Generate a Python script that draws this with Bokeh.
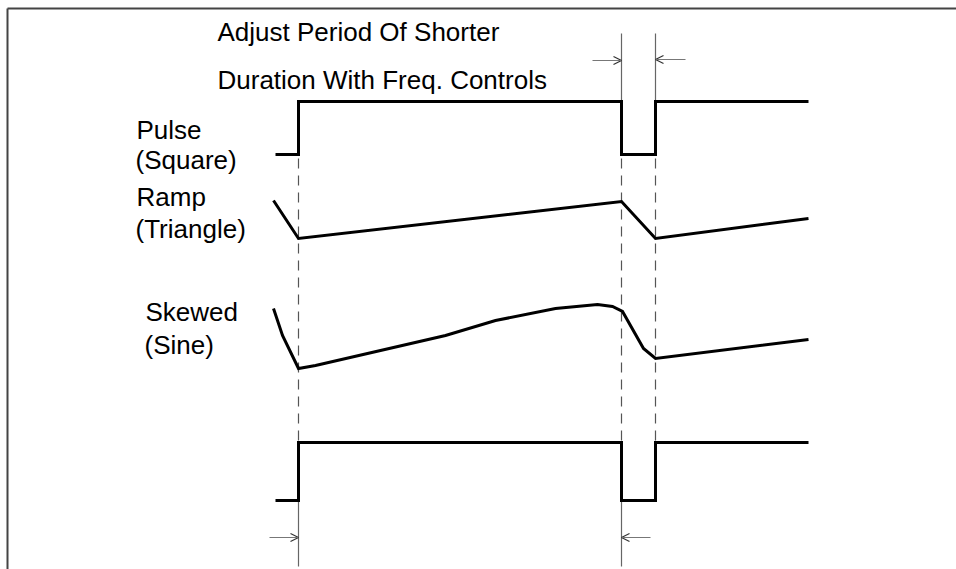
from bokeh.plotting import figure
from bokeh.models import Range1d, Arrow, OpenHead, ColumnDataSource
from bokeh.core.properties import value
from bokeh.embed import file_html
from bokeh.resources import INLINE

# --- data (in pixel-like units) ---
# time edges of the waveforms
t_start = 275
t_rise1 = 298
t_fall = 621
t_rise2 = 655
t_end = 808

# Pulse (Square) levels
sq_low, sq_high = 154, 101
square_t = [t_start, t_rise1, t_rise1, t_fall, t_fall, t_rise2, t_rise2, t_end]
square_v = [sq_low, sq_low, sq_high, sq_high, sq_low, sq_low, sq_high, sq_high]

# Ramp (Triangle)
ramp_t = [273, t_rise1, t_fall, t_rise2, t_end]
ramp_v = [200, 238, 201, 238, 218]

# Skewed (Sine)
sine_t = [273, 282, t_rise1, 315, 445, 495, 555, 597, 612, 622, 643, t_rise2, t_end]
sine_v = [308, 335, 368, 365, 335, 320, 308, 304, 306, 311, 348, 358, 339]

# bottom pulse
bp_low, bp_high = 500, 442
bottom_t = [t_start, t_rise1, t_rise1, t_fall, t_fall, t_rise2, t_rise2, t_end]
bottom_v = [bp_low, bp_low, bp_high, bp_high, bp_low, bp_low, bp_high, bp_high]

title_lines = ["Adjust Period Of Shorter", "Duration With Freq. Controls"]
title_x = [217, 217]
title_y = [31, 79]
labels = ["Pulse", "(Square)", "Ramp", "(Triangle)", "Skewed", "(Sine)"]
label_x = [136, 135, 136, 135, 145, 144]
label_y = [129, 159, 196, 228, 311, 344]

W, H = 956, 569
p = figure(width=W, height=H, output_backend="svg", toolbar_location=None,
           x_range=Range1d(0, W), y_range=Range1d(H, 0),
           x_axis_location=None, y_axis_location=None,
           min_border=0, min_border_left=0, min_border_right=0,
           min_border_top=0, min_border_bottom=0)
p.grid.visible = False
p.outline_line_color = None
p.background_fill_color = "white"
p.border_fill_color = "white"

# frame lines (top and left)
p.line([7, W], [8, 8], line_color="#444444", line_width=2)
p.line([7, 7], [8, H], line_color="#444444", line_width=2)

# dashed guide lines
dash_col = "#555555"
for tx in [t_rise1, t_fall, t_rise2]:
    p.line([tx, tx], [sq_low + 4, bp_high], line_color=dash_col, line_width=1.2,
           line_dash="10 7")

# solid guide lines
guide_col = "#666666"
p.line([t_fall, t_fall], [33, sq_high], line_color=guide_col, line_width=1.2)
p.line([t_rise2, t_rise2], [33, sq_high], line_color=guide_col, line_width=1.2)
p.line([t_rise1, t_rise1], [bp_low, 566], line_color=guide_col, line_width=1.2)
p.line([t_fall, t_fall], [bp_low, 566], line_color=guide_col, line_width=1.2)

# arrows
for xs, xe, y in [(592, t_fall, 60), (685, t_rise2, 59), (269, t_rise1, 537), (650, t_fall, 537)]:
    p.add_layout(Arrow(end=OpenHead(size=8, line_color="#333333", line_width=1.2),
                       x_start=xs, y_start=y, x_end=xe, y_end=y,
                       line_color="#777777", line_width=1.2))

# waveforms
for tt, vv in [(square_t, square_v), (ramp_t, ramp_v), (sine_t, sine_v), (bottom_t, bottom_v)]:
    p.line(tt, vv, line_color="black", line_width=3, line_join="miter")

# texts
font = value("Liberation Sans")
src_t = ColumnDataSource(dict(x=title_x, y=title_y, text=title_lines))
p.text(x="x", y="y", text="text", source=src_t, text_font=font,
       text_font_size="26px", text_baseline="alphabetic", text_color="black")
src_l = ColumnDataSource(dict(x=label_x, y=label_y, text=labels))
p.text(x="x", y="y", text="text", source=src_l, text_font=font,
       text_font_size="26px", text_baseline="alphabetic", text_color="black")

open("out.html", "w").write(file_html(p, INLINE))
